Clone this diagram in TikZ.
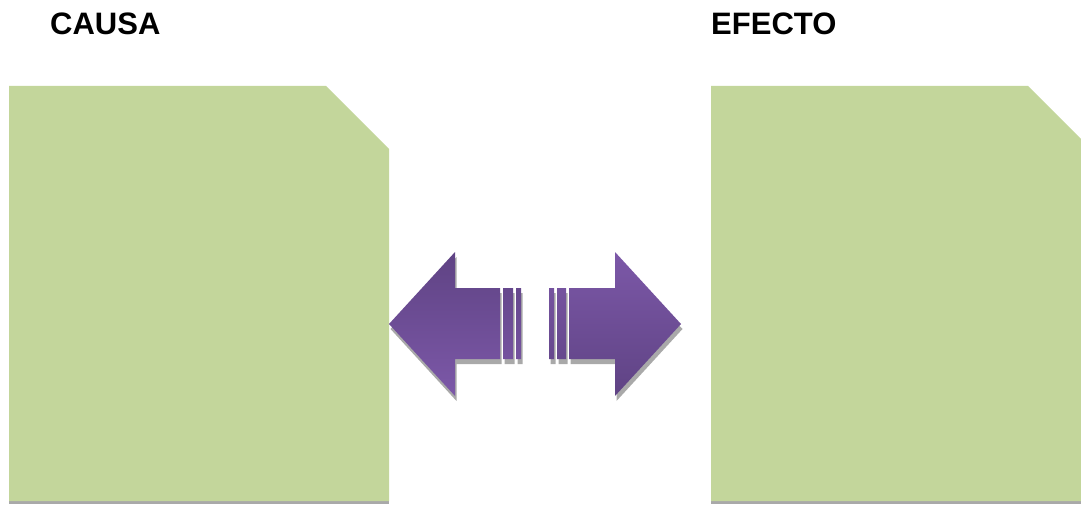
\documentclass[tikz,border=0pt]{standalone}
\usepackage{fontspec}
\setmainfont{Liberation Sans}
\usepackage{xcolor}
\usepackage{tikz}
\usetikzlibrary{positioning}

\definecolor{leafgreen}{HTML}{C3D69B}
\definecolor{shadowgray}{HTML}{A9A9A9}
\definecolor{violetdark}{HTML}{5F4384}
\definecolor{violetlight}{HTML}{7C58A8}

\begin{document}
\begin{tikzpicture}[
  x=1pt, y=1pt,
  title/.style={font=\fontsize{31}{36}\selectfont\bfseries, inner sep=0pt, anchor=base west},
  panel/.style={fill=leafgreen},
  panelshadow/.style={fill=shadowgray},
  arrowshadow/.style={fill=shadowgray},
  leftarrow/.style={top color=violetdark, bottom color=violetlight},
  rightarrow/.style={top color=violetlight, bottom color=violetdark}
]
\useasboundingbox (0,0) rectangle (1081,504);

% titles
\node[title] (causa) at (50,469) {CAUSA};
\node[title] (efecto) at (711,469) {EFECTO};

% panels
\fill[panelshadow] (9,0) rectangle (389,4);
\fill[panel] (9,3) -- (9,418) -- (326,418) -- (389,355) -- (389,3) -- cycle;
\fill[panelshadow] (711,0) rectangle (1091,4);
\fill[panel] (711,3) -- (711,418) -- (1028,418) -- (1091,355) -- (1091,3) -- cycle;

% arrow shadows
\begin{scope}[shift={(1.5,-5)}]
  \fill[arrowshadow] (389,180) -- (455,252) -- (455,216) -- (500,216) -- (500,145) -- (455,145) -- (455,108) -- cycle
    (503,145) rectangle (513,216) (516,145) rectangle (521,216);
  \fill[arrowshadow] (549,145) rectangle (554,216) (557,145) rectangle (566,216)
    (569,145) -- (615,145) -- (615,108) -- (681,180) -- (615,252) -- (615,216) -- (569,216) -- cycle;
\end{scope}

% arrows
\shade[leftarrow] (389,180) -- (455,252) -- (455,216) -- (500,216) -- (500,145) -- (455,145) -- (455,108) -- cycle
  (503,145) rectangle (513,216) (516,145) rectangle (521,216);
\shade[rightarrow] (549,145) rectangle (554,216) (557,145) rectangle (566,216)
  (569,145) -- (615,145) -- (615,108) -- (681,180) -- (615,252) -- (615,216) -- (569,216) -- cycle;
\end{tikzpicture}
\end{document}
